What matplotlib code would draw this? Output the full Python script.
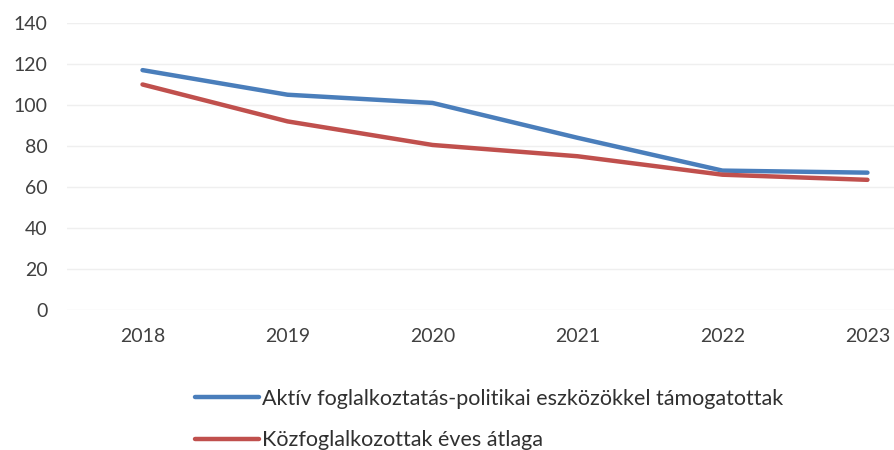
import matplotlib
matplotlib.use('Agg')
import matplotlib.pyplot as plt

plt.rcParams['font.family'] = ['Lato', 'DejaVu Sans']

# data
years = ['2018', '2019', '2020', '2021', '2022', '2023']
aktiv = [117, 105, 101, 84, 68, 67]
kozfog = [110, 92, 80.5, 75, 66, 63.5]

fig = plt.figure(figsize=(8.95, 4.5), dpi=100)
ax = fig.add_axes([0.075, 0.311, 0.925, 0.638])

x = range(len(years))
ax.plot(x, aktiv, color='#4A7EBB', lw=3.2, solid_joinstyle='round', solid_capstyle='round',
        label='Aktív foglalkoztatás-politikai eszközökkel támogatottak')
ax.plot(x, kozfog, color='#C0504D', lw=3.2, solid_joinstyle='round', solid_capstyle='round',
        label='Közfoglalkozottak éves átlaga')

ax.set_ylim(0, 140)
ax.set_yticks(range(0, 141, 20))
ax.set_xlim(-0.52, 5.19)
ax.set_xticks(list(x))
ax.set_xticklabels(years)

# faint horizontal gridlines, no frame
ax.grid(axis='y', color='#efefef', lw=1)
ax.set_axisbelow(True)
for s in ax.spines.values():
    s.set_visible(False)
ax.tick_params(length=0, labelsize=14, colors='#404040')
ax.tick_params(axis='x', pad=13)
ax.tick_params(axis='y', pad=14)

fig.legend(loc='upper left', bbox_to_anchor=(0.208, 0.155), frameon=False, fontsize=15.5,
           handlelength=3.0, handletextpad=0.1, labelspacing=1.0, borderaxespad=0,
           labelcolor='#303030')

fig.savefig('out.png', dpi=100)
